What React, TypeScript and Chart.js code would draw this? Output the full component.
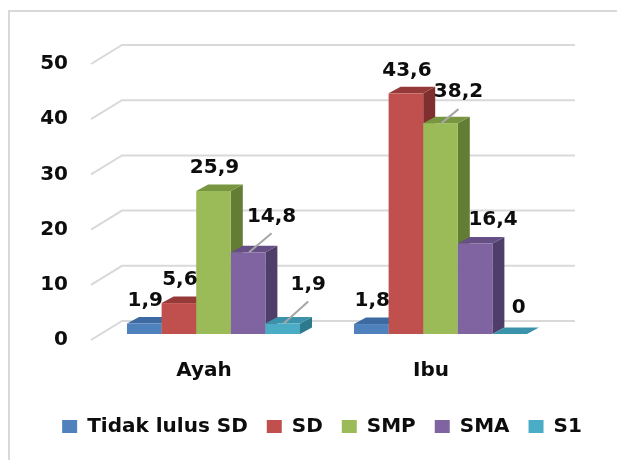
import React, { useEffect, useRef } from 'react';
import { Chart, registerables } from 'chart.js';

Chart.register(...registerables);

// ---- data ----
const categories = ['Ayah', 'Ibu'];
const seriesNames = ['Tidak lulus SD', 'SD', 'SMP', 'SMA', 'S1'];
const tidakLulusSD = [1.9, 1.8];
const sd = [5.6, 43.6];
const smp = [25.9, 38.2];
const sma = [14.8, 16.4];
const s1 = [1.9, 0];
const yMin = 0;
const yMax = 50;
const yStep = 10;

// ---- styles ----
const FONT = 'DejaVu Sans';
const FRONT = ['#4f81bd', '#c0504d', '#9bbb59', '#8064a2', '#4bacc6'];
const TOPC = ['#3d6aa0', '#953a38', '#78963f', '#654f85', '#3a93aa'];
const SIDE = ['#345a88', '#7f302e', '#637d34', '#4f3e69', '#2e7a8d'];
const DEPTH_X = 12;
const DEPTH_Y = 6.5;
const GRID_COLOR = '#d9d9d9';

// label placement tweaks (dataset-category) relative to bar front-top centre
const LABEL_NUDGE: Record<string, { dx: number; dy: number; leader?: boolean }> = {
  '3-0': { dx: 23.5, dy: -36, leader: true },
  '4-0': { dx: 25.5, dy: -39, leader: true },
  '2-1': { dx: 18, dy: -31, leader: true },
  '3-1': { dx: 18, dy: -24 },
  '4-1': { dx: 9, dy: -26 },
};

const fmt = (v: number) => String(v).replace('.', ',');

const bars3d = {
  id: 'bars3d',
  beforeDraw(chart: any) {
    const ctx = chart.ctx;
    ctx.save();
    ctx.fillStyle = '#ffffff';
    ctx.fillRect(0, 0, chart.width, chart.height);
    ctx.strokeStyle = GRID_COLOR;
    ctx.lineWidth = 2;
    ctx.beginPath();
    ctx.moveTo(9, chart.height + 5);
    ctx.lineTo(9, 11);
    ctx.lineTo(chart.width + 5, 11);
    ctx.stroke();
    ctx.restore();
  },
  beforeDatasetsDraw(chart: any) {
    const { ctx, chartArea } = chart;
    const y = chart.scales.y;
    ctx.save();
    // 3D gridlines (wall + floor edge)
    ctx.strokeStyle = GRID_COLOR;
    ctx.lineWidth = 2;
    y.ticks.forEach((t: any) => {
      const py = y.getPixelForValue(t.value);
      ctx.beginPath();
      ctx.moveTo(chartArea.left - 9, py + 6);
      ctx.lineTo(chartArea.left + 22, py - 13);
      ctx.lineTo(chartArea.right + 21, py - 13);
      ctx.stroke();
    });

    const nSets = chart.data.datasets.length;
    const nCats = chart.data.labels.length;
    // boxes, drawn left to right
    for (let j = 0; j < nCats; j++) {
      for (let i = 0; i < nSets; i++) {
        const el = chart.getDatasetMeta(i).data[j];
        const l = el.x - el.width / 2;
        const r = el.x + el.width / 2;
        const top = el.y;
        const base = el.base;
        // side
        ctx.fillStyle = SIDE[i];
        ctx.beginPath();
        ctx.moveTo(r, top);
        ctx.lineTo(r + DEPTH_X, top - DEPTH_Y);
        ctx.lineTo(r + DEPTH_X, base - DEPTH_Y);
        ctx.lineTo(r, base);
        ctx.closePath();
        ctx.fill();
        // top
        ctx.fillStyle = TOPC[i];
        ctx.beginPath();
        ctx.moveTo(l, top);
        ctx.lineTo(l + DEPTH_X, top - DEPTH_Y);
        ctx.lineTo(r + DEPTH_X, top - DEPTH_Y);
        ctx.lineTo(r, top);
        ctx.closePath();
        ctx.fill();
        // front
        ctx.fillStyle = FRONT[i];
        ctx.fillRect(l, top, r - l, base - top);
      }
    }

    // value labels
    ctx.font = `bold 20px "${FONT}"`;
    ctx.textAlign = 'center';
    ctx.textBaseline = 'middle';
    for (let j = 0; j < nCats; j++) {
      for (let i = 0; i < nSets; i++) {
        const el = chart.getDatasetMeta(i).data[j];
        const v = chart.data.datasets[i].data[j];
        const nudge = LABEL_NUDGE[`${i}-${j}`] || { dx: 1, dy: -23 };
        const lx = el.x + nudge.dx;
        const ly = el.y + nudge.dy;
        if (nudge.leader) {
          ctx.strokeStyle = '#a6a6a6';
          ctx.lineWidth = 2;
          ctx.beginPath();
          ctx.moveTo(el.x + 1, el.y);
          ctx.lineTo(lx, ly + 17);
          ctx.stroke();
        }
        ctx.fillStyle = '#0d0d0d';
        ctx.fillText(fmt(v), lx, ly);
      }
    }
    ctx.restore();
    return false;
  },
};

export default function App() {
  const ref = useRef<HTMLCanvasElement>(null);
  useEffect(() => {
    if (!ref.current) return;
    const series = [tidakLulusSD, sd, smp, sma, s1];
    const font = { family: FONT, size: 20, weight: 'bold' as const };
    const chart = new Chart(ref.current, {
      type: 'bar',
      data: {
        labels: categories,
        datasets: series.map((d, i) => ({
          label: seriesNames[i],
          data: d,
          backgroundColor: FRONT[i],
          borderWidth: 0,
          categoryPercentage: 0.762,
          barPercentage: 1,
        })),
      },
      options: {
        animation: false,
        responsive: false,
        devicePixelRatio: 1,
        layout: { padding: { left: 40, right: 13, top: 58, bottom: 13.5 } },
        plugins: {
          legend: {
            position: 'bottom',
            labels: {
              boxWidth: 15,
              boxHeight: 13,
              padding: 19,
              color: '#0d0d0d',
              font,
            },
          },
          tooltip: { enabled: false },
        },
        scales: {
          x: {
            grid: { display: false, drawTicks: false },
            border: { display: false },
            ticks: { padding: 25, labelOffset: -9.5, color: '#0d0d0d', font },
            afterFit: (s: any) => {
              s.height = 63.5;
            },
          },
          y: {
            min: yMin,
            max: yMax,
            grid: { display: false, drawTicks: false },
            border: { display: false },
            ticks: { stepSize: yStep, padding: 32, labelOffset: 6, color: '#0d0d0d', font },
            afterFit: (s: any) => {
              s.width = 60;
            },
          },
          y2: {
            position: 'right',
            grid: { display: false, drawTicks: false },
            border: { display: false },
            ticks: { display: false },
            afterFit: (s: any) => {
              s.width = 50;
            },
          },
        },
      },
      plugins: [bars3d],
    } as any);
    return () => chart.destroy();
  }, []);
  return (
    <div style={{ position: 'fixed', left: 0, top: 0, width: 617, height: 460, background: '#fff' }}>
      <canvas ref={ref} width={617} height={460} />
    </div>
  );
}
